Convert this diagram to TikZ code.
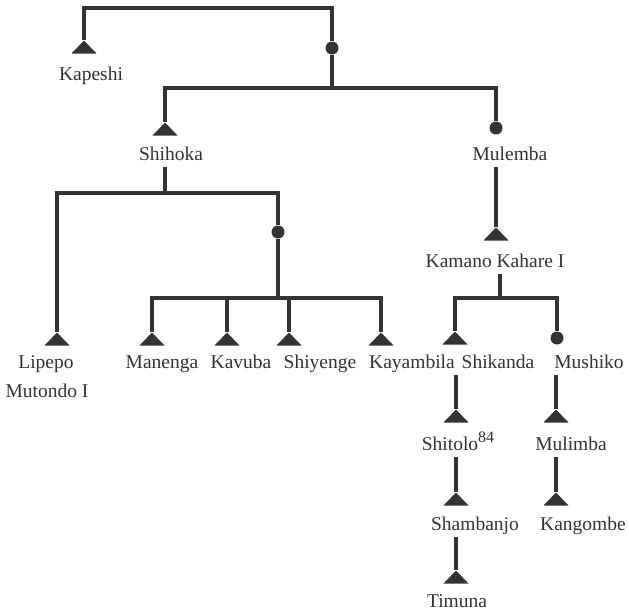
\documentclass[tikz,border=0pt]{standalone}
\usepackage{fontspec}
\setmainfont{Liberation Serif}
\usetikzlibrary{shapes.geometric}

\colorlet{ink}{black!80}
\tikzset{
  male/.style={shape=isosceles triangle,shape border rotate=90,isosceles triangle stretches,
    minimum width=25pt,minimum height=13pt,inner sep=0pt,fill=ink,anchor=apex},
  female/.style={shape=circle,fill=ink,minimum size=13pt,inner sep=0pt},
  lbl/.style={text=ink,font=\fontsize{19.5}{22}\selectfont,text height=13pt,text depth=4pt,inner sep=3pt},
  kin/.style={draw=ink,line width=3.2pt}
}
\newcommand{\supnote}[1]{\raisebox{8pt}{\fontsize{16}{16}\selectfont #1}}

\begin{document}
\begin{tikzpicture}[x=1pt,y=-1pt]
   \useasboundingbox (0,0) rectangle (629,611);

   \node[male] (kap) at (84,40) {};
   \node[female] (w1) at (332,48) {};
   \node[male] (shi) at (165,122) {};
   \node[female] (mul) at (496,128) {};
   \node[female] (w2) at (278,232) {};
   \node[male] (lip) at (57,332) {};
   \node[male] (man) at (152,332) {};
   \node[male] (kav) at (227,332) {};
   \node[male] (shy) at (289,332) {};
   \node[male] (kay) at (381,332) {};
   \node[male] (kam) at (496,227) {};
   \node[male] (shk) at (455,331) {};
   \node[female] (mus) at (557,338) {};
   \node[male] (sto) at (456,409) {};
   \node[male] (mli) at (556,409) {};
   \node[male] (sba) at (456,492) {};
   \node[male] (kgo) at (556,492) {};
   \node[male] (tim) at (456,570) {};

   \node[lbl] (kapL) at (91,75.5) {Kapeshi};
   \node[lbl] (shiL) at (171,155.5) {Shihoka};
   \node[lbl] (mulL) at (510,155.5) {Mulemba};
   \node[lbl] (lipL) at (46,363.5) {Lipepo};
   \node[lbl] (mutL) at (47,392.5) {Mutondo I};
   \node[lbl] (manL) at (162,363.5) {Manenga};
   \node[lbl] (kavL) at (241,363.5) {Kavuba};
   \node[lbl] (shyL) at (320,363.5) {Shiyenge};
   \node[lbl] (kayL) at (412,363.5) {Kayambila};
   \node[lbl] (shkL) at (498,363.5) {Shikanda};
   \node[lbl] (musL) at (589,363.5) {Mushiko};
   \node[lbl] (kamL) at (495,262.5) {Kamano Kahare I};
   \node[lbl] (stoL) at (458,445.5) {Shitolo\supnote{84}};
   \node[lbl] (mliL) at (571,445.5) {Mulimba};
   \node[lbl] (sbaL) at (475,525.5) {Shambanjo};
   \node[lbl] (kgoL) at (583,525.5) {Kangombe};
   \node[lbl] (timL) at (457,602.5) {Timuna};

   \coordinate (top) at (200,8);
   \coordinate (b2) at (332,88);
   \coordinate (b3) at (165,193);
   \coordinate (b4) at (278,298);
   \coordinate (b5) at (500,298);

   \draw[kin] (kap.apex) |- (top) -| (w1.north);
   \draw[kin] (w1.south) -- (b2);
   \draw[kin] (shi.apex) |- (b2) -| (mul.north);
   \draw[kin] (b3 |- shiL.south) -- (b3);
   \draw[kin] (lip.apex) |- (b3) -| (w2.north);
   \draw[kin] (w2.south) -- (b4);
   \draw[kin] (man.apex) |- (b4) -| (kay.apex);
   \draw[kin] (kav.apex) -- (kav.apex |- b4);
   \draw[kin] (shy.apex) -- (shy.apex |- b4);
   \draw[kin] (mul |- mulL.south) -- (kam.apex);
   \draw[kin] (b5 |- kamL.south) -- (b5);
   \draw[kin] (shk.apex) |- (b5) -| (mus.north);
   \draw[kin] (sto.apex |- shkL.south) -- (sto.apex);
   \draw[kin] (mli.apex |- musL.south) -- (mli.apex);
   \draw[kin] (sba.apex |- stoL.south) -- (sba.apex);
   \draw[kin] (kgo.apex |- mliL.south) -- (kgo.apex);
   \draw[kin] (tim.apex |- sbaL.south) -- (tim.apex);
\end{tikzpicture}
\end{document}
